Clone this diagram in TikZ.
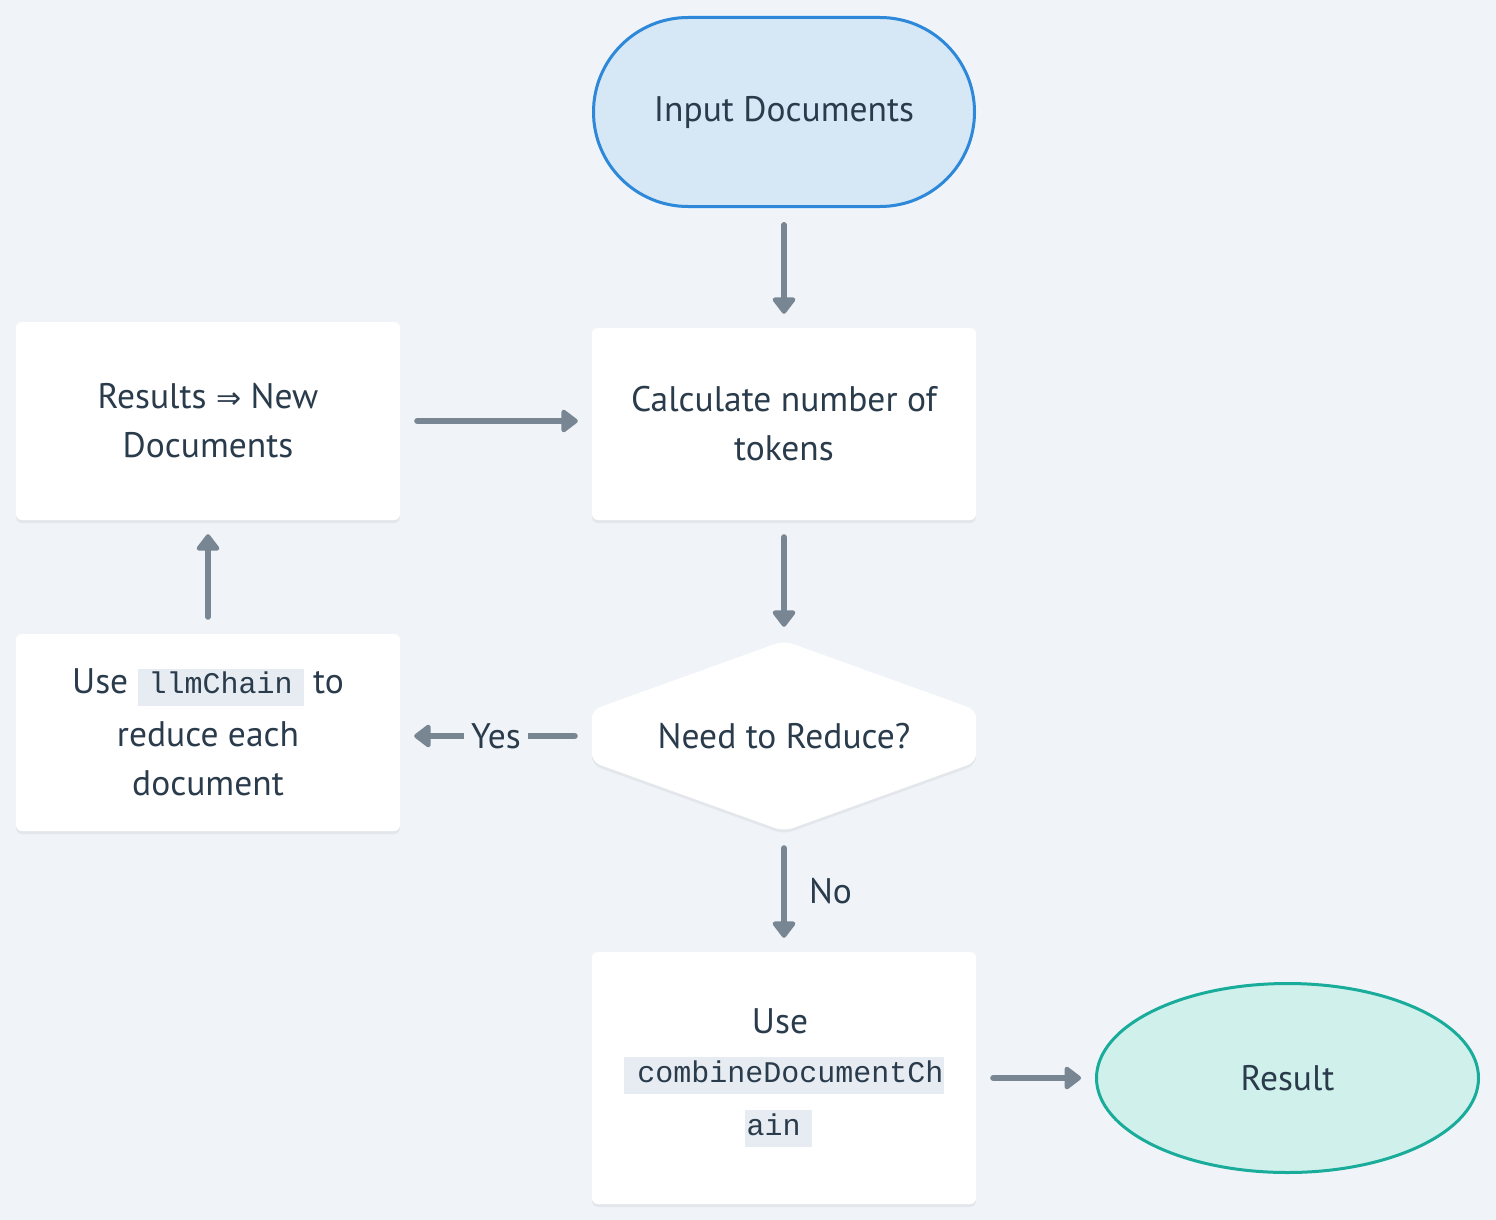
\documentclass[tikz,border=0pt]{standalone}
\usepackage{fontspec}
\setmainfont{PT Sans}
\newfontfamily\codefont{Liberation Mono}
\newfontfamily\arrowfont{DejaVu Sans}
\usetikzlibrary{arrows.meta,shapes.geometric,shadows,calc}
\pgfdeclarelayer{background}
\pgfsetlayers{background,main}
\definecolor{bgc}{HTML}{F0F4F8}
\definecolor{txt}{HTML}{2A3B4C}
\definecolor{arr}{HTML}{788593}
\definecolor{codebg}{HTML}{E6ECF1}
\definecolor{inpfill}{HTML}{D6E7F6}
\definecolor{inpdraw}{HTML}{2E88DA}
\definecolor{resfill}{HTML}{D0F0EC}
\definecolor{resdraw}{HTML}{19AC9A}
\newcommand\mainfs{\fontsize{35.5}{49}\selectfont}
\newcommand\codebox[3]{{\setlength{\fboxsep}{0pt}\colorbox{codebg}{\rule[-12pt]{0pt}{37pt}\hspace{#1}{\codefont\fontsize{30}{36}\selectfont #3}\hspace{#2}}}}
\begin{document}
\begin{tikzpicture}[x=1pt,y=-1pt,
  box/.style={rectangle, fill=white, rounded corners=6pt, minimum width=384pt,
    align=center, text=txt, font=\mainfs, inner sep=0pt,
    drop shadow={shadow xshift=0pt, shadow yshift=-3pt, opacity=0.05, fill=black}},
  conn/.style={draw=arr, line width=6pt, line cap=round,
    -{Triangle[width=26pt,length=18pt,round]}, shorten <=17pt, shorten >=14pt},
  lbl/.style={text=txt, font=\mainfs, inner sep=0pt}]
\useasboundingbox (0,0) rectangle (1496,1220);
\begin{pgfonlayer}{background}
\fill[bgc] (0,0) rectangle (1496,1220);
\end{pgfonlayer}

\node[rectangle, rounded corners=94.5pt, minimum width=381pt, minimum height=189pt,
  fill=inpfill, draw=inpdraw, line width=3pt, text=txt, font=\mainfs] (inp) at (784,112) {Input Documents};

\node[box, minimum height=192pt] (calc) at (784,424) {Calculate number of\\tokens};

\node[rectangle, minimum width=384pt, minimum height=190pt, text=txt, font=\mainfs, inner sep=0pt] (dec) at (784,736) {Need to Reduce?};
\begin{pgfonlayer}{background}
\fill[white, rounded corners=9pt, drop shadow={shadow xshift=0pt, shadow yshift=-3pt, opacity=0.05, fill=black}]
  (dec.north) -- ($(dec.east)+(0,-26)$) -- ($(dec.east)+(0,26)$) -- (dec.south)
  -- ($(dec.west)+(0,26)$) -- ($(dec.west)+(0,-26)$) -- cycle;
\end{pgfonlayer}

\node[box, minimum height=252pt] (comb) at (784,1078) {Use\kern8pt\\[0pt]\codebox{13pt}{0pt}{combineDocumentCh}\\[4pt]\codebox{2pt}{11pt}{ain}\kern12pt};

\node[ellipse, minimum width=382pt, minimum height=189pt, inner sep=0pt,
  fill=resfill, draw=resdraw, line width=3pt, text=txt, font=\mainfs] (res) at (1287.5,1078) {Result};

\node[box, minimum height=197pt] (llm) at (208,732.5) {Use \codebox{11pt}{11pt}{llmChain} to\\[4pt]reduce each\\document};

\node[box, minimum height=198pt] (resn) at (208,421) {Results {\arrowfont\fontsize{30}{36}\selectfont ⇒} New\\Documents};

\draw[conn] (inp) -- (calc);
\draw[conn] (calc) -- (dec);
\draw[conn] (dec) -- node[lbl, anchor=west, xshift=22pt] {No} (comb);
\draw[conn] (comb) -- (res);
\draw[conn] (dec) -- node[lbl, fill=bgc, inner xsep=7pt, inner ysep=4pt] {Yes} (dec -| llm.east);
\draw[conn] (llm) -- (resn);
\draw[conn] (resn) -- (resn -| calc.west);
\end{tikzpicture}
\end{document}
